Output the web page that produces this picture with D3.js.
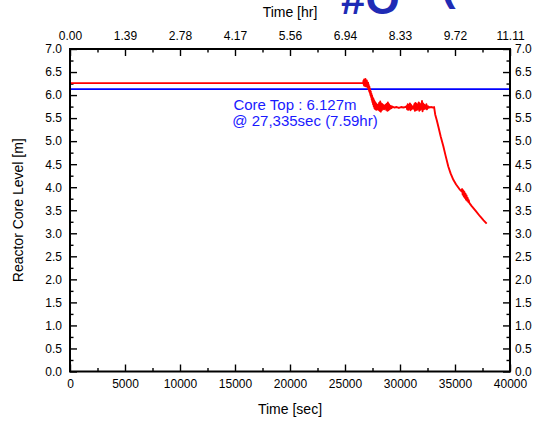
<!DOCTYPE html>
<html><head><meta charset="utf-8">
<script src="https://cdn.jsdelivr.net/npm/d3@7"></script>
<style>
body{margin:0;background:#fff}
svg{display:block}
text{font-family:"Liberation Sans",Arial,sans-serif;fill:#000}
</style>
</head><body>
<svg id="c" width="542" height="421"></svg>
<script>
// ---- data ----
const secTicks = [0, 5000, 10000, 15000, 20000, 25000, 30000, 35000, 40000];
const hrTickLabels = ["0.00","1.39","2.78","4.17","5.56","6.94","8.33","9.72","11.11"];
const levelTicks = [0,0.5,1,1.5,2,2.5,3,3.5,4,4.5,5,5.5,6,6.5,7];
const coreTopLevel = 6.127;
const annotationLines = ["Core Top : 6.127m", "@ 27,335sec (7.59hr)"];
const titleFragments = ["#O", "(", "/"];

const timeSec = [
  0, 10000, 20000, 26650,
  26680, 26710, 26740, 26770, 26800, 26830, 26860, 26890, 26920, 26950, 26980, 27010, 27040, 27070, 27100, 27130, 27160, 27190, 27220, 27250, 27280, 27310, 27340, 27370, 27400,
  27430, 27460, 27490, 27520, 27550, 27580, 27610, 27640, 27670, 27700, 27730, 27760, 27790, 27820, 27850, 27880, 27910, 27940, 27970, 28000,
  28050, 28100, 28150, 28200, 28250, 28300, 28350, 28400, 28450, 28500, 28550, 28600, 28650, 28700, 28750, 28800, 28850, 28900, 28950, 29000, 29050, 29100, 29150, 29200, 29250, 29300,
  29500, 29700, 29900, 30100, 30300, 30500,
  30600, 30650, 30700, 30750, 30800, 30850, 30900, 30950, 31000, 31050, 31100, 31150, 31200, 31250, 31300, 31350, 31400, 31450, 31500, 31550, 31600, 31650, 31700, 31750, 31800, 31850, 31900, 31950, 32000, 32050, 32100, 32150, 32200, 32250, 32300, 32350, 32400, 32450, 32500, 32550, 32600, 32650,
  32800, 33000, 33100,
  33200, 33350, 33500, 33700, 33940, 34150, 34390, 34600, 34850, 35100, 35400, 35600,
  35650, 35700, 35750, 35800, 35850, 35900, 35950, 36000, 36050, 36100, 36150, 36200, 36250, 36300,
  36520, 36900, 37270, 37600, 37880
];
const levelM = [
  6.26, 6.26, 6.26, 6.26,
  6.31, 6.22, 6.34, 6.20, 6.33, 6.23, 6.35, 6.19, 6.31, 6.22, 6.32, 6.18, 6.28, 6.17, 6.27, 6.13, 6.22, 6.09, 6.18, 6.05, 6.13, 6.00, 6.08, 5.96, 6.03,
  5.90, 5.99, 5.85, 5.95, 5.80, 5.92, 5.76, 5.89, 5.72, 5.86, 5.70, 5.84, 5.69, 5.82, 5.68, 5.80, 5.70, 5.79, 5.69, 5.78,
  5.68, 5.83, 5.66, 5.86, 5.64, 5.82, 5.67, 5.80, 5.70, 5.78, 5.69, 5.77, 5.71, 5.79, 5.68, 5.81, 5.66, 5.84, 5.67, 5.80, 5.69, 5.77, 5.71, 5.76, 5.72, 5.75,
  5.73, 5.74, 5.72, 5.74, 5.73, 5.74,
  5.76, 5.69, 5.80, 5.68, 5.78, 5.70, 5.82, 5.67, 5.79, 5.69, 5.76, 5.71, 5.75, 5.70, 5.80, 5.66, 5.83, 5.67, 5.81, 5.68, 5.79, 5.70, 5.84, 5.66, 5.82, 5.68, 5.78, 5.70, 5.87, 5.65, 5.82, 5.69, 5.79, 5.70, 5.77, 5.71, 5.80, 5.69, 5.76, 5.72, 5.75, 5.73,
  5.74, 5.73, 5.74,
  5.58, 5.45, 5.30, 5.10, 4.89, 4.68, 4.45, 4.30, 4.16, 4.06, 3.96, 3.91,
  3.96, 3.84, 3.93, 3.80, 3.90, 3.77, 3.86, 3.73, 3.82, 3.71, 3.77, 3.68, 3.72, 3.66,
  3.59, 3.48, 3.37, 3.28, 3.21
];

// ---- layout ----
const L = 70, R = 510, T = 49, B = 371.5;
const svg = d3.select("#c");
const x = d3.scaleLinear().domain([0, 40000]).range([L, R]);
const y = d3.scaleLinear().domain([0, 7]).range([B, T]);
const secMinor = d3.range(2500, 40000, 5000);
const levelMinor = d3.range(0.25, 7, 0.5);

// clipped big title fragments at top (the reference is cropped here)
const fragPos = [[341, 14], [441, 0], [474, -2]];
titleFragments.forEach((t, i) => {
  svg.append("text").attr("x", fragPos[i][0]).attr("y", fragPos[i][1])
    .attr("font-size", 44).attr("font-weight", "bold")
    .style("fill", "#1f2bb5").text(t);
});

function styleAxis(g) {
  g.select(".domain").remove();
  g.selectAll(".tick line").attr("stroke", "#000").attr("stroke-width", 1.4);
  g.selectAll(".tick text").attr("font-size", 12).style("fill", "#000");
}
// major axes
svg.append("g").attr("transform", `translate(0,${B})`)
  .call(d3.axisBottom(x).tickValues(secTicks).tickFormat(d3.format("d")).tickSizeInner(-7).tickSizeOuter(0).tickPadding(8))
  .call(styleAxis);
svg.append("g").attr("transform", `translate(0,${T})`)
  .call(d3.axisTop(x).tickValues(secTicks).tickFormat((d, i) => hrTickLabels[i]).tickSizeInner(-7).tickSizeOuter(0).tickPadding(9))
  .call(styleAxis);
svg.append("g").attr("transform", `translate(${L},0)`)
  .call(d3.axisLeft(y).tickValues(levelTicks).tickFormat(d3.format(".1f")).tickSizeInner(-7).tickSizeOuter(0).tickPadding(8))
  .call(styleAxis);
svg.append("g").attr("transform", `translate(${R},0)`)
  .call(d3.axisRight(y).tickValues(levelTicks).tickFormat(d3.format(".1f")).tickSizeInner(-7).tickSizeOuter(0).tickPadding(5))
  .call(styleAxis);
// minor ticks
svg.append("g").attr("transform", `translate(0,${B})`)
  .call(d3.axisBottom(x).tickValues(secMinor).tickFormat("").tickSizeInner(-3.5).tickSizeOuter(0)).call(styleAxis);
svg.append("g").attr("transform", `translate(0,${T})`)
  .call(d3.axisTop(x).tickValues(secMinor).tickFormat("").tickSizeInner(-3.5).tickSizeOuter(0)).call(styleAxis);
svg.append("g").attr("transform", `translate(${L},0)`)
  .call(d3.axisLeft(y).tickValues(levelMinor).tickFormat("").tickSizeInner(-3.5).tickSizeOuter(0)).call(styleAxis);
svg.append("g").attr("transform", `translate(${R},0)`)
  .call(d3.axisRight(y).tickValues(levelMinor).tickFormat("").tickSizeInner(-3.5).tickSizeOuter(0)).call(styleAxis);

// core top line
svg.append("line")
  .attr("x1", x(0)).attr("x2", x(40000))
  .attr("y1", y(coreTopLevel)).attr("y2", y(coreTopLevel))
  .attr("stroke", "#0000ff").attr("stroke-width", 1.8);

// level series
const pts = timeSec.map((t, i) => [t, levelM[i]]);
svg.append("path").datum(pts)
  .attr("fill", "none").attr("stroke", "#ff0000").attr("stroke-width", 1.9)
  .attr("stroke-linejoin", "round")
  .attr("d", d3.line().x(d => x(d[0])).y(d => y(d[1])));

// frame
svg.append("rect").attr("x", L).attr("y", T).attr("width", R - L).attr("height", B - T)
  .attr("fill", "none").attr("stroke", "#000").attr("stroke-width", 2);

// annotation
svg.append("text").attr("x", 295).attr("y", 110).attr("text-anchor", "middle")
  .attr("font-size", 15).style("fill", "#1a1aff").text(annotationLines[0]);
svg.append("text").attr("x", 305).attr("y", 126).attr("text-anchor", "middle")
  .attr("font-size", 15).style("fill", "#1a1aff").text(annotationLines[1]);

// axis titles
svg.append("text").attr("x", (L + R) / 2).attr("y", 414).attr("text-anchor", "middle")
  .attr("font-size", 14).text("Time [sec]");
svg.append("text").attr("x", (L + R) / 2).attr("y", 17).attr("text-anchor", "middle")
  .attr("font-size", 14).text("Time [hr]");
svg.append("text").attr("transform", `translate(23,${(T + B) / 2}) rotate(-90)`)
  .attr("text-anchor", "middle").attr("font-size", 14).text("Reactor Core Level [m]");
</script>
</body></html>
